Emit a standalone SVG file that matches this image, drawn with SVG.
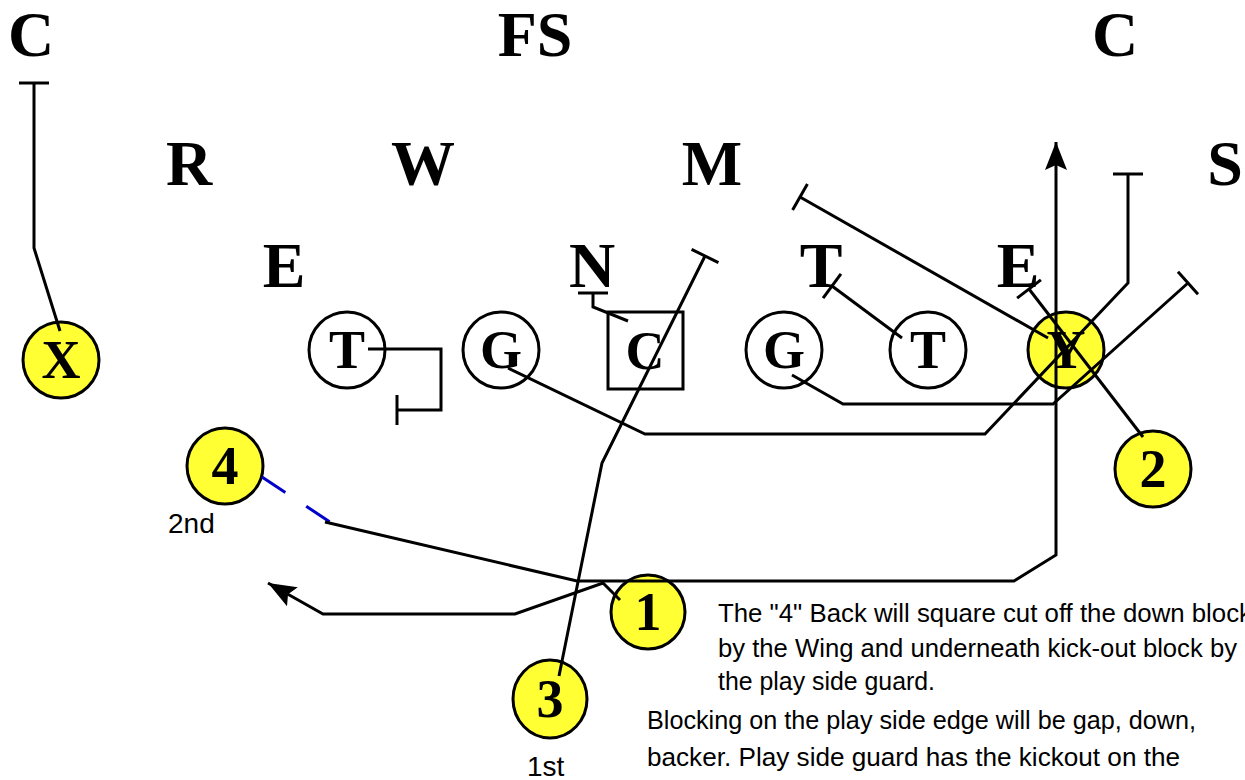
<svg xmlns="http://www.w3.org/2000/svg" width="1245" height="780" viewBox="0 0 1245 780">
<style>
.def{font-family:"Liberation Serif","Times New Roman",serif;font-weight:bold;font-size:64px;fill:#000;text-anchor:middle}
.pl{font-family:"Liberation Serif","Times New Roman",serif;font-weight:bold;font-size:54px;fill:#000;text-anchor:middle}
.ow{fill:#fff;stroke:#000;stroke-width:3}
.oy{fill:#FFFF33;stroke:#000;stroke-width:3}
.rt{fill:none;stroke:#000;stroke-width:3;stroke-linejoin:miter}
.blk{marker-end:url(#tbar)}
.arr{marker-end:url(#arrow)}
.lbl{font-family:"Liberation Sans",Arial,sans-serif;font-size:28px;fill:#000}
.note{font-family:"Liberation Sans",Arial,sans-serif;font-size:25px;fill:#000}
</style>
<defs>
<marker id="tbar" markerUnits="userSpaceOnUse" viewBox="-3 -16 6 32" markerWidth="6" markerHeight="32" refX="0" refY="0" orient="auto">
<path d="M0,-15 L0,15" stroke="#000" stroke-width="3" fill="none"/>
</marker>
<marker id="arrow" markerUnits="userSpaceOnUse" viewBox="0 -12 30 24" markerWidth="30" markerHeight="24" refX="28" refY="0" orient="auto">
<path d="M0,-11 L28,0 L0,11 L5,0 Z" fill="#000"/>
</marker>
</defs>
<rect width="1245" height="780" fill="#fff"/>

<g id="defense">
<text id="d-c-left" class="def" x="31" y="56">C</text>
<text id="d-fs" class="def" x="535" y="56">FS</text>
<text id="d-c-right" class="def" x="1115" y="56">C</text>
<text id="d-r" class="def" x="189" y="185">R</text>
<text id="d-w" class="def" x="423" y="185">W</text>
<text id="d-m" class="def" x="712" y="185">M</text>
<text id="d-s" class="def" x="1225" y="185">S</text>
<text id="d-e-left" class="def" x="284" y="287">E</text>
<text id="d-n" class="def" x="592" y="287">N</text>
<text id="d-t" class="def" x="821" y="287">T</text>
<text id="d-e-right" class="def" x="1018" y="287">E</text>
</g>

<g id="node-x"><circle class="oy" cx="61" cy="360" r="38"/><text class="pl" x="61" y="378">X</text></g>
<g id="node-lt"><circle class="ow" cx="347" cy="350" r="38"/><text class="pl" x="347" y="368">T</text></g>
<g id="node-lg"><circle class="ow" cx="501" cy="350" r="38"/><text class="pl" x="501" y="368">G</text></g>
<g id="node-c"><rect class="ow" x="608" y="312" width="75" height="77"/><text class="pl" x="645" y="369">C</text></g>
<g id="node-rg"><circle class="ow" cx="784" cy="350" r="38"/><text class="pl" x="784" y="368">G</text></g>
<g id="node-rt"><circle class="ow" cx="928" cy="350" r="38"/><text class="pl" x="928" y="368">T</text></g>
<g id="node-y"><circle class="oy" cx="1066" cy="350" r="38"/><text class="pl" x="1066" y="368">Y</text></g>
<g id="node-4"><circle class="oy" cx="225" cy="466" r="38"/><text class="pl" x="225" y="484">4</text></g>
<g id="node-2"><circle class="oy" cx="1153" cy="469" r="38"/><text class="pl" x="1153" y="487">2</text></g>
<g id="node-1"><circle class="oy" cx="648" cy="612" r="37"/><text class="pl" x="648" y="630">1</text></g>
<g id="node-3"><ellipse class="oy" cx="550" cy="699" rx="37" ry="39"/><text class="pl" x="550" y="717">3</text></g>

<g id="connectors">
<path class="rt blk" d="M60,331 L34,248 L34,83"/>
<path class="rt blk" d="M368,349 L441,349 L441,410 L397,410"/>
<path class="rt blk" d="M508,368 L645,434 L985,434 L1128,283 L1128,174"/>
<path class="rt blk" d="M792,375 L843,404 L1053,404 L1188,283"/>
<path class="rt blk" d="M902,338 L832,286"/>
<path class="rt blk" d="M1048,338 L800,197"/>
<path class="rt blk" d="M628,321 L593,307 L593,293"/>
<path class="rt blk" d="M1143,437 L1029,289"/>
<path class="rt blk" d="M559,676 L602,463 L705,256"/>
<path d="M262,477 L330,522" fill="none" stroke="#0000CC" stroke-width="3" stroke-dasharray="28 25"/>
<path class="rt arr" d="M325,522 L577,581 L1014,581 L1056,555 L1056,142"/>
<path class="rt arr" d="M620,600 L603,583 L515,614 L323,614 L268,583"/>
</g>

<g id="labels">
<text class="lbl" x="168" y="533">2nd</text>
<text class="lbl" x="527" y="776">1st</text>
<text class="note" x="718" y="622" textLength="534" lengthAdjust="spacingAndGlyphs">The "4" Back will square cut off the down block</text>
<text class="note" x="718" y="657" textLength="519" lengthAdjust="spacingAndGlyphs">by  the Wing and underneath kick-out block by</text>
<text class="note" x="718" y="690" textLength="217" lengthAdjust="spacingAndGlyphs">the play side guard.</text>
<text class="note" x="647" y="729" textLength="549" lengthAdjust="spacingAndGlyphs">Blocking on the play side edge will be gap, down,</text>
<text class="note" x="647" y="766" textLength="533" lengthAdjust="spacingAndGlyphs">backer.  Play side guard has the kickout on the</text>
</g>
</svg>
